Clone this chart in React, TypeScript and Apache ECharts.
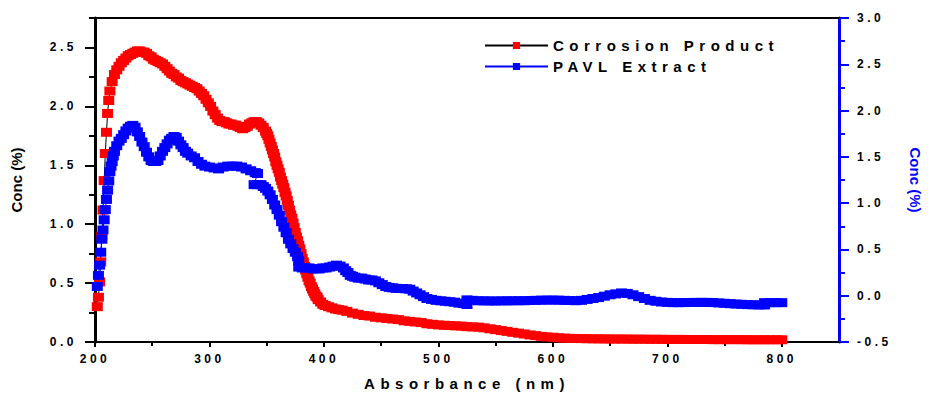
import React, { useEffect, useRef } from 'react';
import * as echarts from 'echarts';

// Corrosion Product (left axis)
const corrosionNm = [
  202, 203, 204, 205, 206, 207, 208, 209, 210, 211, 212, 213, 215, 217, 219, 221, 223, 225, 227, 229,
  231, 233, 235, 237, 239, 241, 243, 245, 247, 249, 251, 253, 255, 257, 259, 261, 263, 265, 267, 269,
  271, 273, 275, 277, 279, 281, 283, 285, 287, 289, 291, 293, 295, 297, 299, 301, 303, 305, 307, 309,
  311, 313, 315, 317, 319, 321, 323, 325, 327, 329, 331, 333, 335, 337, 339, 341, 343, 345, 347, 349,
  350, 351, 352, 353, 354, 355, 356, 357, 358, 359, 360, 361, 362, 363, 364, 365, 366, 367, 368, 369,
  370, 371, 372, 373, 374, 375, 376, 377, 378, 379, 380, 381, 382, 383, 384, 385, 386, 387, 388, 389,
  390, 391, 392, 393, 394, 395, 397, 399, 401, 404, 407, 410, 413, 416, 420, 425, 430, 435, 440, 445,
  450, 455, 460, 465, 470, 475, 480, 485, 490, 495, 500, 505, 510, 515, 520, 525, 530, 535, 540, 545,
  550, 555, 560, 565, 570, 575, 580, 585, 590, 595, 600, 605, 610, 615, 620, 625, 630, 635, 640, 645,
  650, 655, 660, 665, 670, 675, 680, 685, 690, 695, 700, 705, 710, 715, 720, 725, 730, 735, 740, 745,
  750, 755, 760, 765, 770, 775, 780, 785, 790, 795, 800,
];
const corrosionConc = [
  0.30, 0.38, 0.51, 0.68, 0.90, 1.12, 1.37, 1.60, 1.78, 1.94, 2.05, 2.13, 2.21, 2.27, 2.31, 2.34, 2.37, 2.39, 2.41, 2.43,
  2.44, 2.45, 2.46, 2.47, 2.47, 2.46, 2.46, 2.45, 2.43, 2.42, 2.40, 2.39, 2.38, 2.37, 2.36, 2.34, 2.32, 2.30, 2.28, 2.27,
  2.25, 2.24, 2.22, 2.21, 2.20, 2.19, 2.18, 2.17, 2.16, 2.15, 2.13, 2.11, 2.09, 2.06, 2.03, 2.00, 1.96, 1.93, 1.90, 1.88,
  1.87, 1.87, 1.86, 1.85, 1.85, 1.84, 1.84, 1.83, 1.82, 1.81, 1.82, 1.83, 1.85, 1.86, 1.87, 1.87, 1.86, 1.84, 1.82, 1.79,
  1.77, 1.75, 1.72, 1.69, 1.66, 1.63, 1.60, 1.57, 1.53, 1.50, 1.47, 1.44, 1.40, 1.37, 1.34, 1.31, 1.27, 1.24, 1.20, 1.16,
  1.12, 1.08, 1.05, 1.01, 0.97, 0.93, 0.89, 0.86, 0.82, 0.79, 0.75, 0.71, 0.68, 0.64, 0.61, 0.58, 0.55, 0.52, 0.50, 0.47,
  0.45, 0.43, 0.41, 0.39, 0.38, 0.36, 0.34, 0.32, 0.31, 0.30, 0.29, 0.28, 0.275, 0.27, 0.26, 0.245, 0.235, 0.225, 0.22, 0.21,
  0.205, 0.20, 0.195, 0.19, 0.18, 0.175, 0.17, 0.165, 0.155, 0.15, 0.145, 0.142, 0.14, 0.137, 0.135, 0.13, 0.128, 0.126, 0.12, 0.112,
  0.105, 0.097, 0.09, 0.082, 0.075, 0.068, 0.06, 0.054, 0.048, 0.043, 0.04, 0.036, 0.033, 0.031, 0.03, 0.029, 0.028, 0.027, 0.027, 0.026,
  0.026, 0.025, 0.025, 0.025, 0.024, 0.024, 0.024, 0.023, 0.023, 0.023, 0.022, 0.022, 0.022, 0.022, 0.021, 0.021, 0.021, 0.021, 0.02, 0.02,
  0.02, 0.02, 0.02, 0.02, 0.019, 0.019, 0.019, 0.019, 0.019, 0.019, 0.019,
];

// PAVL Extract (right axis) – recorded in spliced segments
const pavlNm = [
  202, 203, 204, 205, 206, 207, 208, 209, 210, 211, 212, 213, 214, 215, 216, 217, 219, 221, 223, 225,
  227, 229, 231, 233, 235, 237, 239, 241, 243, 245, 247, 249, 251, 253, 255, 257, 259, 261, 263, 265,
  267, 269, 271, 273, 275, 277, 279, 281, 284, 287, 290, 293, 296, 300, 304, 308, 312, 316, 320, 324,
  328, 332, 336, 340, 342,
  339, 342, 345, 347, 349, 351, 353, 355, 357, 359, 361, 363, 365, 367, 369, 371, 373, 375, 377, 378,
  378, 381, 384, 387, 390, 393, 396, 399, 402, 405, 408, 411, 414, 417, 419, 421, 423, 425, 427, 430,
  433, 436, 439, 442, 445, 448, 451, 454, 457, 460, 463, 466, 469, 472, 475, 478, 481, 484, 487, 490,
  494, 498, 502, 506, 510, 514, 518, 522, 525,
  525, 530, 535, 540, 545, 550, 555, 560, 565, 570, 575, 580, 585, 590, 595, 600, 605, 610, 615, 620,
  625, 630, 635, 640, 645, 650, 655, 660, 665, 670, 675, 680, 685, 690, 695, 700, 705, 710, 715, 720,
  725, 730, 735, 740, 745, 750, 755, 760, 765, 770, 775, 780, 785,
  785, 790, 795, 800,
];
const pavlConc = [
  0.10, 0.22, 0.33, 0.47, 0.61, 0.71, 0.82, 0.93, 1.04, 1.14, 1.24, 1.34, 1.40, 1.45, 1.51, 1.56, 1.62, 1.67, 1.70, 1.74,
  1.78, 1.81, 1.83, 1.84, 1.82, 1.77, 1.72, 1.66, 1.61, 1.55, 1.50, 1.46, 1.45, 1.45, 1.46, 1.51, 1.56, 1.60, 1.64, 1.68,
  1.70, 1.72, 1.71, 1.67, 1.63, 1.60, 1.56, 1.54, 1.51, 1.49, 1.45, 1.42, 1.40, 1.39, 1.38, 1.37, 1.39, 1.40, 1.40, 1.40,
  1.39, 1.37, 1.35, 1.33, 1.32,
  1.20, 1.20, 1.20, 1.18, 1.16, 1.13, 1.09, 1.04, 0.98, 0.93, 0.87, 0.80, 0.74, 0.68, 0.61, 0.56, 0.51, 0.47, 0.42, 0.38,
  0.31, 0.30, 0.30, 0.30, 0.29, 0.29, 0.29, 0.30, 0.30, 0.31, 0.32, 0.33, 0.32, 0.30, 0.27, 0.25, 0.22, 0.21, 0.20, 0.19,
  0.19, 0.18, 0.17, 0.17, 0.16, 0.14, 0.12, 0.10, 0.09, 0.085, 0.08, 0.078, 0.077, 0.075, 0.07, 0.05, 0.03, 0.01, -0.01, -0.03,
  -0.04, -0.05, -0.055, -0.06, -0.065, -0.07, -0.08, -0.085, -0.095,
  -0.045, -0.05, -0.055, -0.055, -0.057, -0.057, -0.056, -0.055, -0.055, -0.054, -0.054, -0.052, -0.05, -0.048, -0.047, -0.047, -0.048, -0.05, -0.052, -0.054,
  -0.05, -0.04, -0.03, -0.02, -0.005, 0.01, 0.02, 0.03, 0.025, 0.01, -0.01, -0.03, -0.05, -0.06, -0.068, -0.072, -0.075, -0.075, -0.074, -0.073,
  -0.072, -0.072, -0.072, -0.074, -0.078, -0.082, -0.086, -0.09, -0.093, -0.096, -0.098, -0.1, -0.1,
  -0.075, -0.075, -0.075, -0.075,
];

const xTickValues = [200, 300, 400, 500, 600, 700, 800];
const xMinorTickValues = [250, 350, 450, 550, 650, 750];
const leftTickValues = [0, 0.5, 1, 1.5, 2, 2.5];
const leftMinorTickValues = [0.25, 0.75, 1.25, 1.75, 2.25, 2.75];

const seriesNames = ['Corrosion Product', 'PAVL Extract'];

export default function App() {
  const ref = useRef<HTMLDivElement>(null);

  useEffect(() => {
    const el = ref.current;
    if (!el) return;
    const chart = echarts.init(el, null, { renderer: 'svg' });
    const font = "'Liberation Sans', Arial, Helvetica, sans-serif";
    const black = '#000000';
    const red = '#ff0000';
    const blue = '#0000ff';
    const tickLabel = { color: black, fontFamily: font, fontWeight: 'bold' as const, fontSize: 12 };
    const nameStyle = { color: black, fontFamily: font, fontWeight: 'bold' as const, fontSize: 15 };

    const option: any = {
      animation: false,
      backgroundColor: '#ffffff',
      grid: { left: 95, right: 87, top: 18, bottom: 50 },
      legend: {
        left: 484,
        top: 38,
        padding: 0,
        orient: 'vertical',
        itemWidth: 63,
        itemHeight: 9,
        itemGap: 6,
        selectedMode: false,
        textStyle: { color: black, fontFamily: font, fontWeight: 'bold', fontSize: 15 },
        data: seriesNames,
      },
      xAxis: [
        {
          type: 'value', min: 200, max: 850, interval: 100, position: 'bottom',
          axisLine: { show: true, onZero: false, lineStyle: { color: black, width: 2 } },
          axisTick: { show: true, length: 5, customValues: xTickValues, lineStyle: { color: black, width: 2 } },
          axisLabel: { ...tickLabel, margin: 11, customValues: xTickValues, formatter: (v: number) => String(v) },
          splitLine: { show: false },
          name: 'Absorbance (nm)', nameLocation: 'middle', nameGap: 34, nameTextStyle: nameStyle,
        },
        {
          type: 'value', min: 200, max: 850, position: 'bottom',
          axisLine: { show: false, onZero: false },
          axisTick: { show: true, length: 4, customValues: xMinorTickValues, lineStyle: { color: black, width: 2 } },
          axisLabel: { show: false },
          splitLine: { show: false },
        },
        {
          type: 'value', min: 200, max: 850, position: 'top',
          axisLine: { show: true, onZero: false, lineStyle: { color: black, width: 2 } },
          axisTick: { show: false },
          axisLabel: { show: false },
          splitLine: { show: false },
        },
      ],
      yAxis: [
        {
          type: 'value', min: 0, max: 2.75, interval: 0.5, position: 'left',
          axisLine: { show: true, onZero: false, lineStyle: { color: black, width: 3 } },
          axisTick: { show: true, length: 10, customValues: leftTickValues, lineStyle: { color: black, width: 2 } },
          axisLabel: { ...tickLabel, margin: 18, customValues: leftTickValues, formatter: (v: number) => v.toFixed(1) },
          splitLine: { show: false },
          name: 'Conc (%)', nameLocation: 'middle', nameGap: 71, nameTextStyle: nameStyle,
        },
        {
          type: 'value', min: -0.5, max: 3, interval: 0.5, position: 'right',
          axisLine: { show: true, onZero: false, lineStyle: { color: blue, width: 3 } },
          axisTick: { show: true, length: 10, lineStyle: { color: blue, width: 2 } },
          minorTick: { show: true, splitNumber: 2, length: 6, lineStyle: { color: blue, width: 2 } },
          axisLabel: { ...tickLabel, margin: 18, formatter: (v: number) => v.toFixed(1) },
          splitLine: { show: false },
          name: 'Conc (%)', nameLocation: 'middle', nameGap: 69, nameRotate: -90,
          nameTextStyle: { ...nameStyle, color: blue },
        },
        {
          type: 'value', min: 0, max: 2.75, position: 'left',
          axisLine: { show: false, onZero: false },
          axisTick: { show: true, length: 6, customValues: leftMinorTickValues, lineStyle: { color: black, width: 2 } },
          axisLabel: { show: false },
          splitLine: { show: false },
        },
      ],
      series: [
        {
          name: seriesNames[0], type: 'line', xAxisIndex: 0, yAxisIndex: 0,
          data: corrosionNm.map((x, i) => [x, corrosionConc[i]]),
          symbol: 'rect', symbolSize: [11, 9], showSymbol: true, showAllSymbol: true,
          itemStyle: { color: red }, lineStyle: { color: black, width: 1 },
          emphasis: { disabled: true },
        },
        {
          name: seriesNames[1], type: 'line', xAxisIndex: 0, yAxisIndex: 1,
          data: pavlNm.map((x, i) => [x, pavlConc[i]]),
          symbol: 'rect', symbolSize: [11, 9], showSymbol: true, showAllSymbol: true,
          itemStyle: { color: blue }, lineStyle: { color: blue, width: 1 },
          emphasis: { disabled: true },
        },
      ],
    };
    chart.setOption(option);

    const applySpacing = () => {
      el.querySelectorAll('text').forEach((t) => {
        const s = (t.textContent || '').trim();
        if (/^-?\d/.test(s)) (t as SVGTextElement).style.letterSpacing = '3.5px';
        else if (s === 'Corrosion Product' || s === 'PAVL Extract' || s === 'Absorbance (nm)')
          (t as SVGTextElement).style.letterSpacing = '5.5px';
      });
    };
    applySpacing();
    chart.on('finished', applySpacing);

    return () => {
      chart.dispose();
    };
  }, []);

  return (
    <div
      ref={ref}
      style={{ position: 'fixed', left: 0, top: 0, width: 931, height: 396, background: '#fff' }}
    />
  );
}
